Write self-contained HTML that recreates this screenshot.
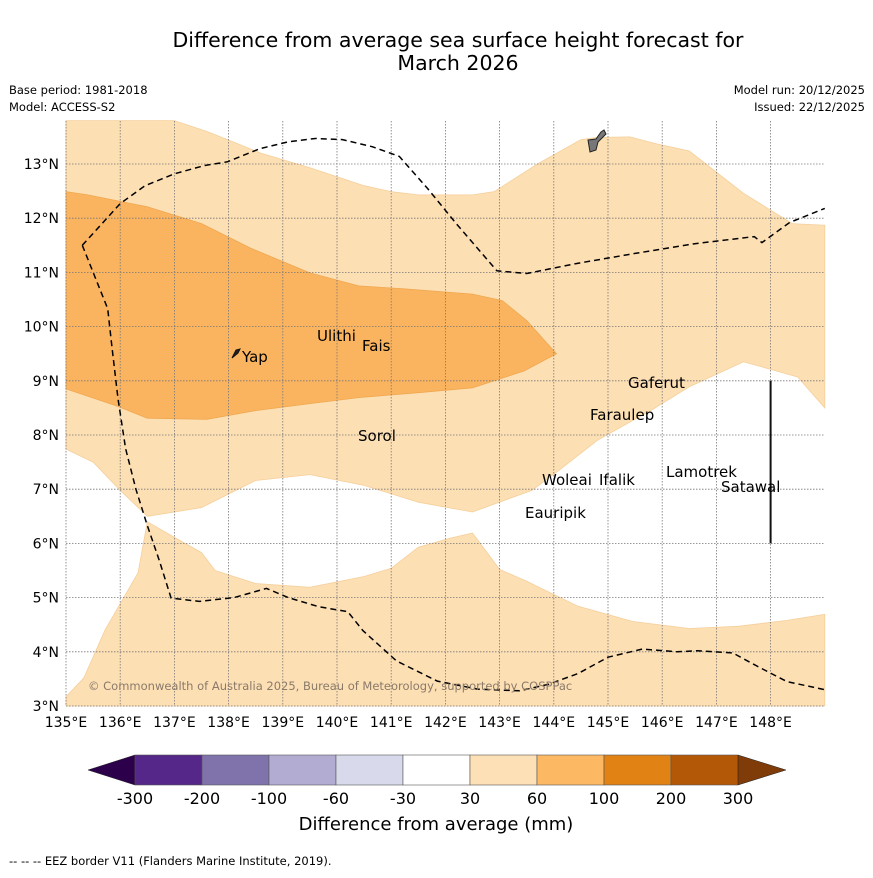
<!DOCTYPE html>
<html><head><meta charset="utf-8"><style>
body{margin:0;background:#fff;font-family:"Liberation Sans","DejaVu Sans",sans-serif}
svg text{font-family:"DejaVu Sans","Liberation Sans",sans-serif}
</style></head><body>
<svg id="s" width="873" height="873" viewBox="0 0 873 873" xmlns="http://www.w3.org/2000/svg">
<rect width="873" height="873" fill="#fff"/>
<text x="458" y="47" font-size="20.5" text-anchor="middle">Difference from average sea surface height forecast for</text>
<text x="458" y="70" font-size="20.5" text-anchor="middle">March 2026</text>
<text x="9" y="94" font-size="11.5">Base period: 1981-2018</text>
<text x="9" y="111" font-size="11.5">Model: ACCESS-S2</text>
<text x="865" y="94" font-size="11.5" text-anchor="end">Model run: 20/12/2025</text>
<text x="865" y="111" font-size="11.5" text-anchor="end">Issued: 22/12/2025</text>
<g id="map"></g>
<g id="cbar"></g>
<text x="436" y="830" font-size="18" text-anchor="middle">Difference from average (mm)</text>
<text x="9" y="865" font-size="11.5">--  --  -- EEZ border V11 (Flanders Marine Institute, 2019).</text>
</svg>
<script>
const lonTicks=[135,136,137,138,139,140,141,142,143,144,145,146,147,148];
const latTicks=[3,4,5,6,7,8,9,10,11,12,13];
const bounds=["-300","-200","-100","-60","-30","30","60","100","200","300"];
const binColors=["#542788","#8073ac","#b2abd2","#d8daeb","#ffffff","#fee0b6","#fdb863","#e08214","#b35806"];
// contour polygons [lon,lat]
const lightNorth=[[135,13.8],[137,13.8],[137.6,13.6],[138.1,13.4],[138.6,13.2],[139.5,12.93],[140.5,12.6],[141,12.49],[141.5,12.43],[142.5,12.43],[142.9,12.49],[143.7,13.0],[144.5,13.45],[144.8,13.49],[145.4,13.5],[145.9,13.37],[146.5,13.24],[147.5,12.46],[148.4,11.9],[149,11.87],[149,8.5],[148.5,9.07],[147.5,9.35],[146.5,8.89],[145.8,8.46],[144.8,7.9],[144.1,7.35],[143.6,6.98],[142.5,6.58],[141.5,6.76],[140.5,7.07],[139.5,7.27],[138.5,7.16],[137.5,6.66],[136.5,6.5],[136,6.98],[135.5,7.5],[135,7.74]];
const lightSouth=[[135,3.17],[135.33,3.52],[135.72,4.4],[136.33,5.46],[136.5,6.4],[137,6.11],[137.5,5.83],[137.75,5.5],[138.5,5.26],[139.5,5.19],[140.5,5.39],[141,5.54],[141.5,5.93],[142.1,6.1],[142.5,6.19],[143,5.52],[143.5,5.3],[144.45,4.84],[145.45,4.56],[146.5,4.43],[147.4,4.47],[148.3,4.58],[149,4.69],[149,3],[135,3]];
const dark=[[135,12.49],[135.4,12.43],[136.5,12.21],[137.5,11.9],[138.4,11.45],[139.5,10.99],[140.4,10.75],[141.2,10.7],[142.5,10.6],[143.05,10.48],[143.5,10.11],[144.05,9.5],[143.45,9.18],[142.5,8.87],[141.5,8.78],[140.4,8.69],[139.5,8.58],[138.5,8.45],[137.6,8.29],[136.5,8.31],[135.95,8.53],[135,8.85]];
const eezTop=[[135.3,11.5],[136,12.27],[136.46,12.6],[137,12.82],[137.55,12.97],[137.98,13.04],[138.57,13.28],[139.1,13.41],[139.6,13.47],[140.1,13.45],[140.65,13.32],[141.15,13.14],[141.67,12.55],[142.2,11.9],[142.95,11.03],[143.5,10.98],[144.4,11.16],[145.5,11.35],[146.6,11.53],[147.7,11.66],[147.84,11.55],[148.35,11.92],[149,12.18]];
const eezBot=[[135.3,11.5],[135.77,10.33],[135.85,9.6],[135.96,8.67],[136.1,7.75],[136.29,7.0],[136.5,6.33],[136.72,5.69],[136.94,4.99],[137.46,4.93],[138.1,5.0],[138.7,5.17],[139.1,5.0],[139.67,4.83],[140.2,4.74],[140.48,4.39],[141.1,3.83],[141.85,3.46],[142.6,3.31],[143.37,3.28],[143.9,3.4],[144.45,3.6],[145,3.9],[145.63,4.05],[146.28,4.0],[146.65,4.02],[147.3,3.98],[147.76,3.73],[148.3,3.45],[149,3.3]];
const islands=[["Yap",138.1,9.5,242,357],["Ulithi",139.6,9.95,317,336],["Fais",140.45,9.77,362,346],["Sorol",140.35,8.12,358,436],["Gaferut",145.3,9.2,628,383],["Faraulep",144.6,8.6,590,415],["Woleai",143.8,7.35,542,480],["Ifalik",144.5,7.25,599,480],["Eauripik",143.1,6.7,525,513],["Lamotrek",146.05,7.45,666,472],["Satawal",147.05,7.15,721,487]];
const X=lon=>66+(lon-135)*54.2, Y=lat=>706-(lat-3)*54.2;
const NS="http://www.w3.org/2000/svg";
function mk(tag,attrs,parent){const e=document.createElementNS(NS,tag);for(const k in attrs)e.setAttribute(k,attrs[k]);parent.appendChild(e);return e;}
const map=document.getElementById('map');
const pts=a=>a.map(p=>X(p[0]).toFixed(1)+','+Y(p[1]).toFixed(1)).join(' ');
let e;
e=mk('rect',{x:66,y:121,width:759,height:585,fill:'#fff'},map);

e=mk('polygon',{points:pts(lightNorth),fill:'#fddfb4',stroke:'#f5cf9a','stroke-width':0.8},map);

e=mk('polygon',{points:pts(lightSouth),fill:'#fddfb4',stroke:'#f5cf9a','stroke-width':0.8},map);

e=mk('polygon',{points:pts(dark),fill:'#fab460',stroke:'#f0a850','stroke-width':0.8},map);

lonTicks.forEach(l=>{
 e=mk('line',{x1:X(l),x2:X(l),y1:121,y2:706,stroke:'#777','stroke-width':0.8,'stroke-dasharray':'1.5,1.5'},map);
 
 e=mk('text',{x:X(l),y:727,'font-size':14,'text-anchor':'middle'},map);e.textContent=l+'°E';
 
});
latTicks.forEach(l=>{
 e=mk('line',{x1:66,x2:825,y1:Y(l),y2:Y(l),stroke:'#777','stroke-width':0.8,'stroke-dasharray':'1.5,1.5'},map);
 
 e=mk('text',{x:59,y:Y(l)+5,'font-size':14,'text-anchor':'end'},map);e.textContent=l+'°N';
 
});
[eezTop,eezBot].forEach(a=>{
 e=mk('polyline',{points:pts(a),fill:'none',stroke:'#000','stroke-width':1.5,'stroke-dasharray':'6,4'},map);
 
});
e=mk('line',{x1:X(148),x2:X(148),y1:Y(9),y2:Y(6),stroke:'#111','stroke-width':2},map);

e=mk('path',{d:'M588,140 L596,139 L601,132 L604,130 L606,134 L598,142 L596,150 L590,152 Z',fill:'#777',stroke:'#222','stroke-width':1},map);

e=mk('path',{d:'M232,358 L236,350 L240,349 L238,353 Z',fill:'#222',stroke:'#111','stroke-width':1},map);

islands.forEach(d=>{
 e=mk('text',{x:d[3],y:d[4]+5,'font-size':15},map);e.textContent=d[0];
 
});
e=mk('text',{x:88,y:690,'font-size':11.5,fill:'#8a7a6a'},map);
e.textContent='© Commonwealth of Australia 2025, Bureau of Meteorology, supported by COSPPac';

// colorbar
const cb=document.getElementById('cbar');
const bx=135,bw=67,by=755,bh=30;
e=mk('polygon',{points:`${bx},${by} ${bx},${by+bh} 88,${by+bh/2}`,fill:'#2d004b',stroke:'#222','stroke-width':0.5},cb);

binColors.forEach((c,i)=>{
 e=mk('rect',{x:bx+i*bw,y:by,width:bw,height:bh,fill:c,stroke:'#555','stroke-width':0.6},cb);
 
});
const ex=bx+binColors.length*bw;
e=mk('polygon',{points:`${ex},${by} ${ex},${by+bh} 786,${by+bh/2}`,fill:'#7f3b08',stroke:'#222','stroke-width':0.5},cb);

bounds.forEach((b,i)=>{
 e=mk('text',{x:bx+i*bw,y:804,'font-size':16,'text-anchor':'middle'},cb);e.textContent=b;
 
});
</script>
</body></html>
